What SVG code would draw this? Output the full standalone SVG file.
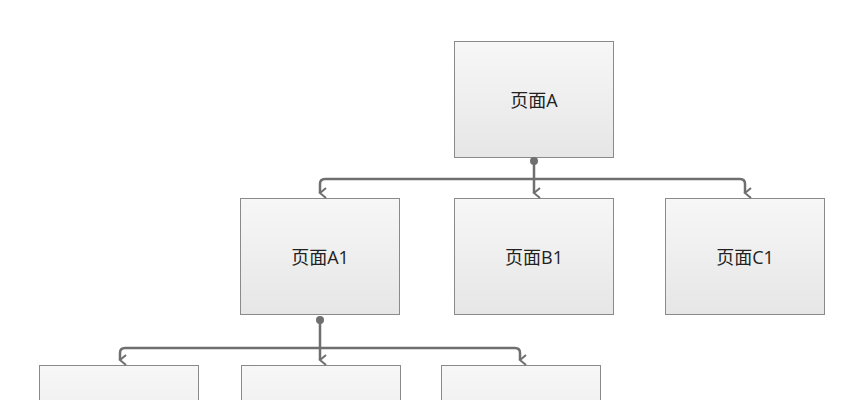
<svg xmlns="http://www.w3.org/2000/svg" width="865" height="400" viewBox="0 0 865 400">
<defs>
<linearGradient id="g" x1="0" y1="0" x2="0" y2="1"><stop offset="0" stop-color="#f7f7f7"/><stop offset="1" stop-color="#e6e6e6"/></linearGradient>
<marker id="ar" viewBox="0 0 12 10" refX="6" refY="8" markerWidth="12" markerHeight="10" markerUnits="userSpaceOnUse" orient="auto-start-reverse"><path d="M1,2 L6,8 L11,2" fill="none" stroke="#6f6f6f" stroke-width="2"/></marker>
</defs>
<style>
.n rect{fill:url(#g);stroke:#8a8a8a;stroke-width:1}
.n text{font-family:"Open Sans","Noto Sans CJK SC",sans-serif;font-size:18px;fill:#222;text-anchor:middle;dominant-baseline:central}
.c path{fill:none;stroke:#6f6f6f;stroke-width:2.5}
.c circle{fill:#6f6f6f}
</style>
<rect width="865" height="400" fill="#fff"/>
<g id="A" class="n"><rect x="454.5" y="41.5" width="159" height="116"/><text x="534" y="100">页面A</text></g>
<g id="A1" class="n"><rect x="240.5" y="198.5" width="159" height="116"/><text x="320" y="257">页面A1</text></g>
<g id="B1" class="n"><rect x="454.5" y="198.5" width="159" height="116"/><text x="534" y="257">页面B1</text></g>
<g id="C1" class="n"><rect x="665.5" y="198.5" width="159" height="116"/><text x="745" y="257">页面C1</text></g>
<g id="D1" class="n"><rect x="39.5" y="365.5" width="159" height="116"/></g>
<g id="D2" class="n"><rect x="241.5" y="365.5" width="159" height="116"/></g>
<g id="D3" class="n"><rect x="441.5" y="365.5" width="159" height="116"/></g>
<g id="connectors" class="c">
<circle cx="534" cy="161" r="4"/>
<path d="M534,161 V193" marker-end="url(#ar)"/>
<path d="M534,179 H325 Q320,179 320,184 V193" marker-end="url(#ar)"/>
<path d="M534,179 H740 Q745,179 745,184 V193" marker-end="url(#ar)"/>
<circle cx="320" cy="320" r="4"/>
<path d="M320,320 V360" marker-end="url(#ar)"/>
<path d="M320,348 H125 Q120,348 120,353 V360" marker-end="url(#ar)"/>
<path d="M320,348 H515 Q520,348 520,353 V360" marker-end="url(#ar)"/>
</g>
</svg>
